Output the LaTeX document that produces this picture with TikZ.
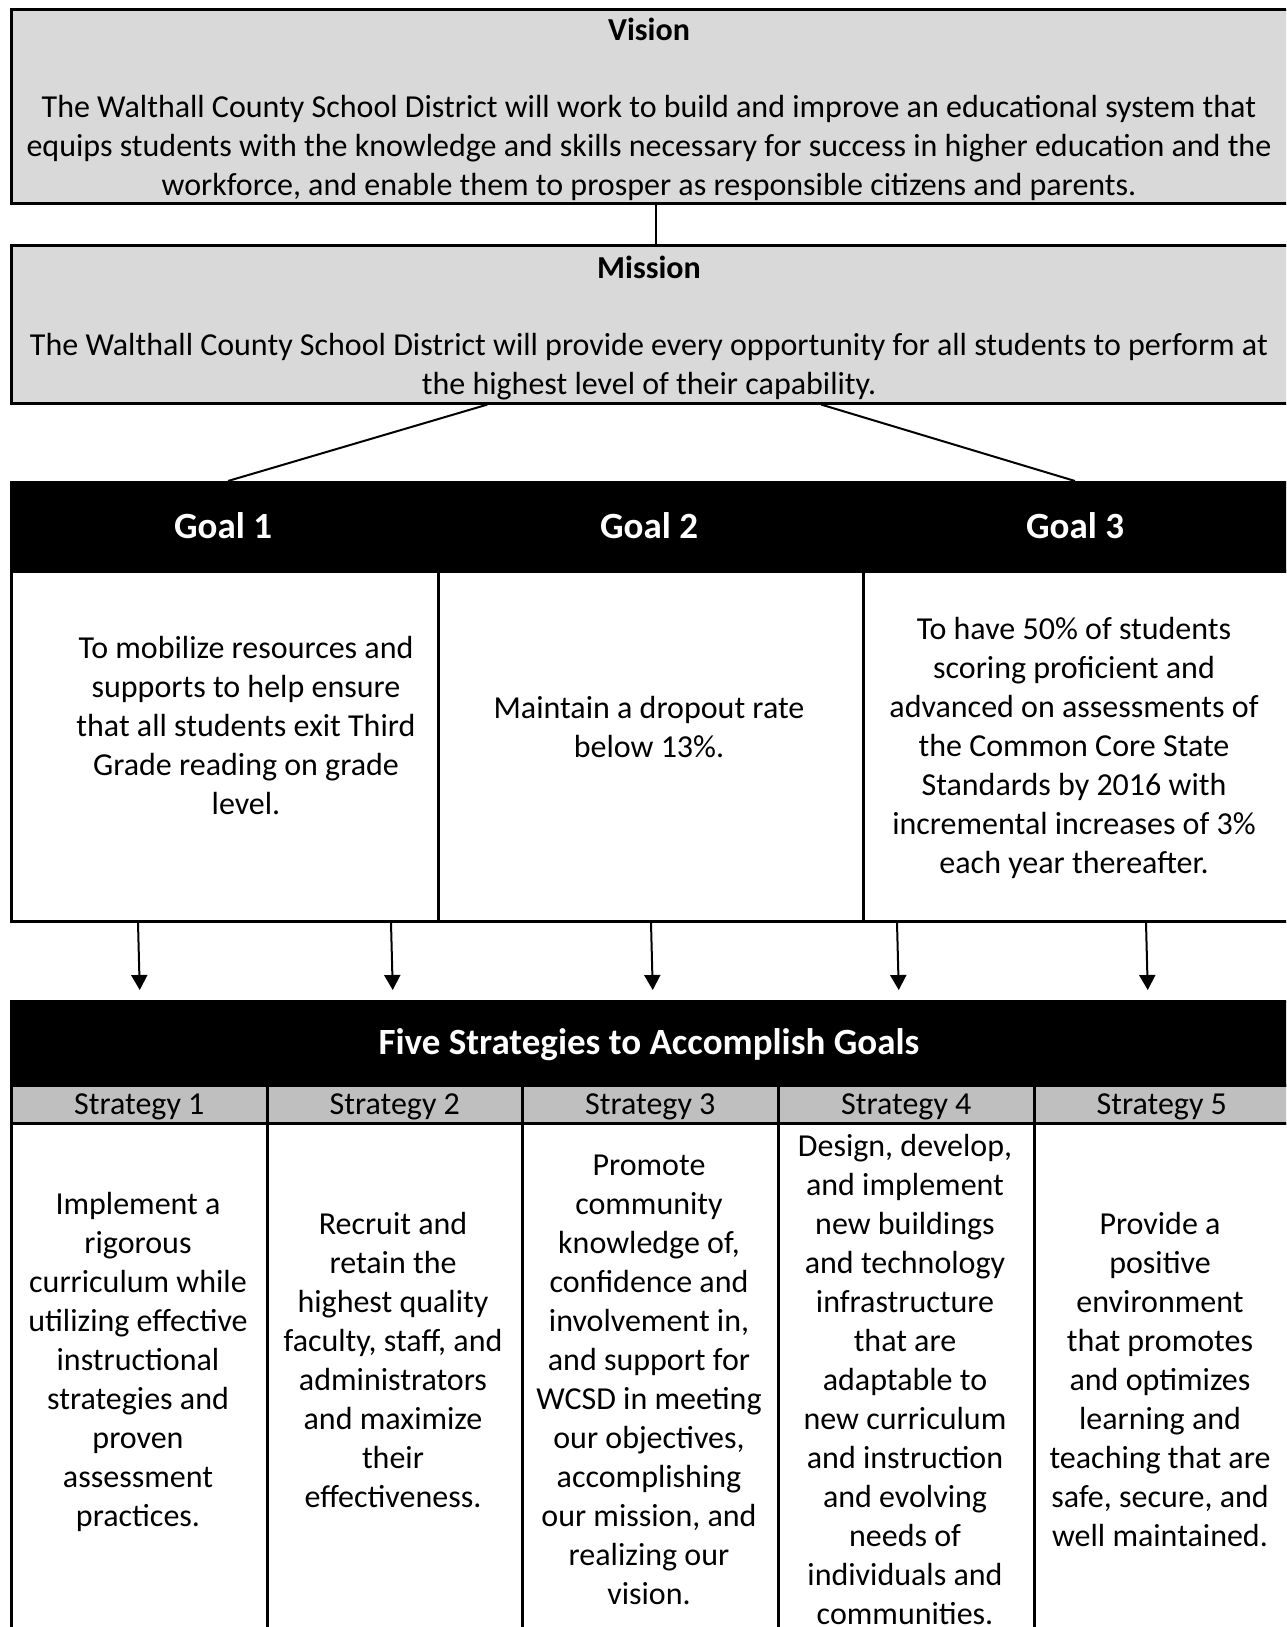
\documentclass[tikz,border=0pt]{standalone}
\usepackage{fontspec}
\setmainfont{Carlito}
\usetikzlibrary{arrows.meta,calc}
\definecolor{panelgray}{HTML}{D9D9D9}
\definecolor{labelgray}{HTML}{BFBFBF}

\begin{document}
\begin{tikzpicture}[x=0.5pt,y=-0.5pt,
  frame/.style={draw=black,line width=1.3pt,inner sep=0pt,anchor=north west},
  panel/.style={frame,fill=panelgray},
  header/.style={frame,fill=black},
  cell/.style={frame,fill=white},
  slabel/.style={frame,fill=labelgray,text height=13.5pt,text depth=3.3pt,font=\fontsize{16pt}{19.5pt}\selectfont},
  body/.style={inner sep=0pt,align=center,font=\fontsize{16pt}{19.5pt}\selectfont},
  title/.style={inner sep=0pt,font=\fontsize{16pt}{19.5pt}\selectfont\bfseries},
  headtext/.style={inner sep=0pt,text=white,font=\fontsize{18.5pt}{22pt}\selectfont\bfseries},
  link/.style={line width=1pt},
  flow/.style={line width=1pt,-{Triangle[width=8pt,length=7.5pt]},shorten >=5pt},
]
\useasboundingbox (0,0) rectangle (1286,1627);
\clip (0,0) rectangle (1286,1627);

% Vision and mission panels
\node[panel,minimum width=645pt,minimum height=97pt] (vision) at (10,8) {};
\node[panel,minimum width=645pt,minimum height=79pt] (mission) at (10,244) {};

\node[title] (vtitle) at (649,29) {Vision};
\node[body] (vtext) at (649,148) {The Walthall County School District will work to build and improve an educational system that\\
equips students with the knowledge and skills necessary for success in higher education and the\\
workforce, and enable them to prosper as responsible citizens and parents.};
\node[title] (mtitle) at (649,267) {Mission};
\node[body] (mtext) at (649,367) {The Walthall County School District will provide every opportunity for all students to perform at\\
the highest level of their capability.};

% Goals table
\node[cell,minimum width=213.5pt,minimum height=175pt] (g1box) at (10,570) {};
\node[cell,minimum width=212.5pt,minimum height=175pt] (g2box) at (437,570) {};
\node[cell,minimum width=213pt,minimum height=175pt] (g3box) at (862,570) {};
\node[header,minimum width=639pt,minimum height=44.5pt] (goalhead) at (10,481) {};

\node[headtext] (g1title) at (223,526) {Goal 1};
\node[headtext] (g2title) at (649,526) {Goal 2};
\node[headtext] (g3title) at (1075,526) {Goal 3};

\node[body] (g1text) at (246,726) {To mobilize resources and\\ supports to help ensure\\ that all students exit Third\\ Grade reading on grade\\ level.};
\node[body] (g2text) at (649,727) {Maintain a dropout rate\\ below 13\%.};
\node[body] (g3text) at (1074,748) {To have 50\% of students\\ scoring proficient and\\ advanced on assessments of\\ the Common Core State\\ Standards by 2016 with\\ incremental increases of 3\%\\ each year thereafter.};

% Strategies table
\node[cell,minimum width=128pt,minimum height=269pt] (s1box) at (10,1122) {};
\node[cell,minimum width=127.5pt,minimum height=269pt] (s2box) at (266,1122) {};
\node[cell,minimum width=128pt,minimum height=269pt] (s3box) at (521,1122) {};
\node[cell,minimum width=128pt,minimum height=269pt] (s4box) at (777,1122) {};
\node[cell,minimum width=127.5pt,minimum height=269pt] (s5box) at (1033,1122) {};

\node[slabel,minimum width=128pt,minimum height=19pt] (s1lab) at (10,1084) {Strategy 1};
\node[slabel,minimum width=127.5pt,minimum height=19pt] (s2lab) at (266,1084) {Strategy 2};
\node[slabel,minimum width=128pt,minimum height=19pt] (s3lab) at (521,1084) {Strategy 3};
\node[slabel,minimum width=128pt,minimum height=19pt] (s4lab) at (777,1084) {Strategy 4};
\node[slabel,minimum width=127.5pt,minimum height=19pt] (s5lab) at (1033,1084) {Strategy 5};

\node[header,minimum width=639pt,minimum height=42pt] (strathead) at (10,1000) {};
\node[headtext] (stitle) at (649,1045) {Five Strategies to Accomplish Goals};

\node[body] (s1text) at (138,1362) {Implement a\\ rigorous\\ curriculum while\\ utilizing effective\\ instructional\\ strategies and\\ proven\\ assessment\\ practices.};
\node[body] (s2text) at (393,1360) {Recruit and\\ retain the\\ highest quality\\ faculty, staff, and\\ administrators\\ and maximize\\ their\\ effectiveness.};
\node[body] (s3text) at (649,1380) {Promote\\ community\\ knowledge of,\\ confidence and\\ involvement in,\\ and support for\\ WCSD in meeting\\ our objectives,\\ accomplishing\\ our mission, and\\ realizing our\\ vision.};
\node[body] (s4text) at (905,1379) {Design, develop,\\ and implement\\ new buildings\\ and technology\\ infrastructure\\ that are\\ adaptable to\\ new curriculum\\ and instruction\\ and evolving\\ needs of\\ individuals and\\ communities.};
\node[body] (s5text) at (1160,1379) {Provide a\\ positive\\ environment\\ that promotes\\ and optimizes\\ learning and\\ teaching that are\\ safe, secure, and\\ well maintained.};

% Connectors
\draw[link] (vision.south) -- (mission.north);
\draw[link] ($(mission.south)+(-169,0)$) -- ($(goalhead.north west)+(218,0)$);
\draw[link] ($(mission.south)+(165,0)$) -- ($(goalhead.north west)+(1065,0)$);

\draw[flow] ($(g1box.south west)+(128,0)$) -- ($(strathead.north west)+(130,0)$);
\draw[flow] ($(g1box.south west)+(381,0)$) -- ($(strathead.north west)+(383,0)$);
\draw[flow] ($(g2box.south west)+(214,0)$) -- ($(strathead.north west)+(643,0)$);
\draw[flow] ($(g3box.south west)+(35,0)$) -- ($(strathead.north west)+(889,0)$);
\draw[flow] ($(g3box.south west)+(284,0)$) -- ($(strathead.north west)+(1138,0)$);
\end{tikzpicture}
\end{document}
